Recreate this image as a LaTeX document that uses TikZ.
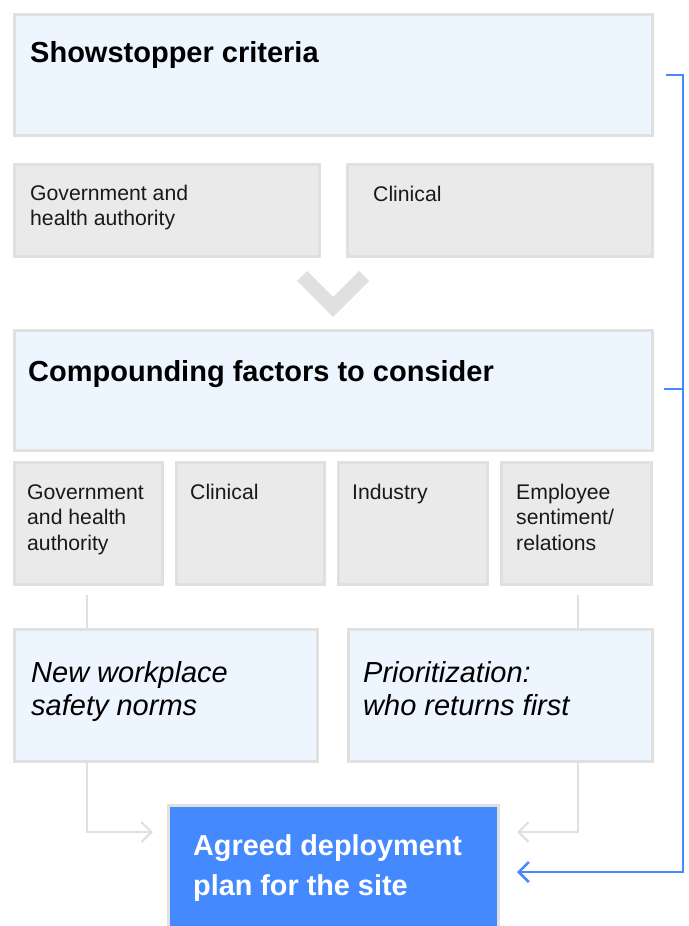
\documentclass[tikz,border=0pt]{standalone}
\usepackage{fontspec}
\setmainfont{Liberation Sans}
\usetikzlibrary{arrows.meta}
\definecolor{lightblue}{HTML}{EDF5FF}
\definecolor{bordergray}{HTML}{E0E0E0}
\definecolor{boxgray}{HTML}{EAEAEA}
\definecolor{accentblue}{HTML}{4589FF}
\tikzset{
  boxbase/.style={draw=bordergray, line width=2.5pt, anchor=north west, inner sep=0pt, rectangle},
  bluebox/.style={boxbase, fill=lightblue},
  graybox/.style={boxbase, fill=boxgray},
  finalbox/.style={boxbase, fill=accentblue},
  smalltext/.style={anchor=base west, inner sep=0pt, align=left, font=\fontsize{21.2}{25.5}\selectfont, text=black!90},
  titletext/.style={anchor=base west, inner sep=0pt, align=left, font=\fontsize{29}{34}\selectfont\bfseries},
  italtext/.style={anchor=base west, inner sep=0pt, align=left, font=\fontsize{29}{33}\selectfont\itshape},
  finaltext/.style={anchor=base west, inner sep=0pt, align=left, font=\fontsize{28.8}{40}\selectfont\bfseries, text=white},
  conn/.style={draw=bordergray, line width=2.2pt},
  grayarrow/.style={conn, -{Straight Barb[length=10pt, width=20pt, line width=2.2pt]}},
  bluearrow/.style={draw=accentblue, line width=2.6pt},
  bluearrowtip/.style={bluearrow, -{Straight Barb[length=10pt, width=20pt, line width=2.6pt]}},
}
\begin{document}
\begin{tikzpicture}[x=1pt,y=-1pt]
\useasboundingbox (0,0) rectangle (688,926);

% top section
\node[bluebox, minimum width=638pt, minimum height=121pt] (show) at (13,13) {};
\node[titletext] (showt) at (30,62) {Showstopper criteria};
\node[graybox, minimum width=305pt, minimum height=92pt] (sgov) at (13,163) {};
\node[smalltext] (sgovt) at (30,225.5) {Government and\\health authority};
\node[graybox, minimum width=305pt, minimum height=92pt] (sclin) at (346,163) {};
\node[smalltext] (sclint) at (373,201) {Clinical};

% chevron
\fill[bordergray] (297,281) -- (307,271) -- (333,297) -- (359,271) -- (369,281) -- (333,317) -- cycle;

% compounding section
\node[bluebox, minimum width=638pt, minimum height=120pt] (comp) at (13,329) {};
\node[titletext] (compt) at (28,381) {Compounding factors to consider};
\node[graybox, minimum width=148pt, minimum height=122pt] (c1) at (13,461) {};
\node[smalltext] (c1t) at (27,550) {Government\\and health\\authority};
\node[graybox, minimum width=148pt, minimum height=122pt] (c2) at (175,461) {};
\node[smalltext] (c2t) at (190,499) {Clinical};
\node[graybox, minimum width=149pt, minimum height=122pt] (c3) at (337,461) {};
\node[smalltext] (c3t) at (352,499) {Industry};
\node[graybox, minimum width=150pt, minimum height=122pt] (c4) at (500,461) {};
\node[smalltext] (c4t) at (516,550) {Employee\\sentiment/\\relations};

% outcomes
\node[bluebox, minimum width=303pt, minimum height=132pt] (norms) at (13,628) {};
\node[italtext] (normst) at (31,715) {New workplace\\safety norms};
\node[bluebox, minimum width=304pt, minimum height=132pt] (prio) at (347,628) {};
\node[italtext] (priot) at (363,715) {Prioritization:\\who returns first};

% final
\node[finalbox, minimum width=330pt, minimum height=130pt] (plan) at (167,804) {};
\node[finaltext] (plant) at (193,895) {Agreed deployment\\plan for the site};

% connectors
\coordinate (lt) at (87,595);
\coordinate (rt) at (578,595);
\draw[conn] (lt) -- (lt |- norms.north);
\draw[conn] (rt) -- (rt |- prio.north);
\coordinate (lbend) at (87,832);
\coordinate (rbend) at (578,832);
\coordinate (lend) at (153,832);
\coordinate (rend) at (517,832);
\draw[grayarrow] (lt |- norms.south) -- (lbend) -- (lend);
\draw[grayarrow] (rt |- prio.south) -- (rbend) -- (rend);

% blue bracket
\coordinate (b1) at (666,75);
\coordinate (b2) at (683,75);
\coordinate (b3) at (683,872);
\coordinate (b4) at (517,872);
\coordinate (bm1) at (664,389);
\coordinate (bm2) at (683,389);
\draw[bluearrowtip] (b1) -- (b2) -- (b3) -- (b4);
\draw[bluearrow] (bm1) -- (bm2);
\end{tikzpicture}
\end{document}
